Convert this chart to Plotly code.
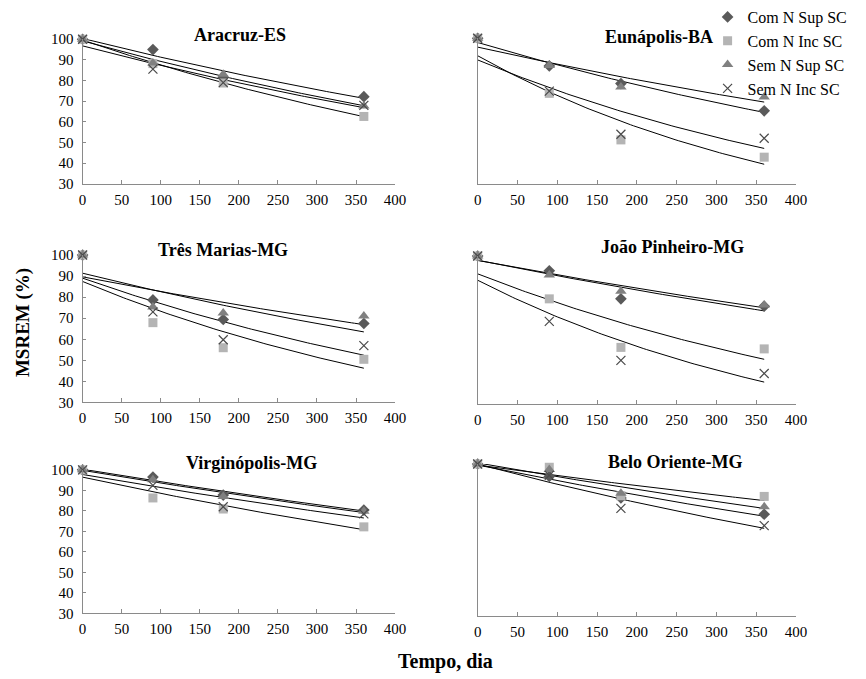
import numpy as np
import plotly.graph_objects as go

# ---------------- data ----------------
DAYS = [0, 90, 180, 360]
SERIES = ["Com N Sup SC", "Com N Inc SC", "Sem N Sup SC", "Sem N Inc SC"]
SITES = ["Aracruz-ES", "Eunápolis-BA", "Três Marias-MG",
         "João Pinheiro-MG", "Virginópolis-MG", "Belo Oriente-MG"]

ARACRUZ_COM_SUP = [100, 95.0, 81.5, 72.2]
ARACRUZ_COM_INC = [100, 88.2, 78.8, 62.6]
ARACRUZ_SEM_SUP = [100, 88.5, 83.0, 67.7]
ARACRUZ_SEM_INC = [100, 85.5, 79.0, 68.0]

EUNAPOLIS_COM_SUP = [100, 86.7, 78.2, 65.1]
EUNAPOLIS_COM_INC = [100, 73.5, 51.1, 42.8]
EUNAPOLIS_SEM_SUP = [100, 86.9, 76.5, 71.8]
EUNAPOLIS_SEM_INC = [100, 74.6, 53.8, 51.9]

TRES_MARIAS_COM_SUP = [100, 78.7, 69.4, 67.5]
TRES_MARIAS_COM_INC = [100, 67.9, 56.0, 50.5]
TRES_MARIAS_SEM_SUP = [100, 75.3, 72.5, 71.0]
TRES_MARIAS_SEM_INC = [100, 73.0, 59.8, 57.0]

JOAO_PINHEIRO_COM_SUP = [100, 93.0, 79.8, 76.3]
JOAO_PINHEIRO_COM_INC = [100, 79.8, 56.9, 56.2]
JOAO_PINHEIRO_SEM_SUP = [100, 91.1, 83.4, 76.9]
JOAO_PINHEIRO_SEM_INC = [100, 69.2, 50.8, 44.6]

VIRGINOPOLIS_COM_SUP = [100, 96.5, 87.7, 80.4]
VIRGINOPOLIS_COM_INC = [100, 86.3, 80.9, 72.2]
VIRGINOPOLIS_SEM_SUP = [100, 95.2, 87.0, 79.8]
VIRGINOPOLIS_SEM_INC = [100, 92.4, 82.0, 78.5]

BELO_ORIENTE_COM_SUP = [100, 94.3, 84.4, 76.9]
BELO_ORIENTE_COM_INC = [100, 98.5, 85.4, 85.1]
BELO_ORIENTE_SEM_SUP = [100, 97.5, 86.6, 80.3]
BELO_ORIENTE_SEM_INC = [100, 94.8, 79.6, 71.7]

SITE_DATA = [
    [ARACRUZ_COM_SUP, ARACRUZ_COM_INC, ARACRUZ_SEM_SUP, ARACRUZ_SEM_INC],
    [EUNAPOLIS_COM_SUP, EUNAPOLIS_COM_INC, EUNAPOLIS_SEM_SUP, EUNAPOLIS_SEM_INC],
    [TRES_MARIAS_COM_SUP, TRES_MARIAS_COM_INC, TRES_MARIAS_SEM_SUP, TRES_MARIAS_SEM_INC],
    [JOAO_PINHEIRO_COM_SUP, JOAO_PINHEIRO_COM_INC, JOAO_PINHEIRO_SEM_SUP, JOAO_PINHEIRO_SEM_INC],
    [VIRGINOPOLIS_COM_SUP, VIRGINOPOLIS_COM_INC, VIRGINOPOLIS_SEM_SUP, VIRGINOPOLIS_SEM_INC],
    [BELO_ORIENTE_COM_SUP, BELO_ORIENTE_COM_INC, BELO_ORIENTE_SEM_SUP, BELO_ORIENTE_SEM_INC],
]

# ---------------- styling ----------------
W, H = 866, 679
FONT = "Liberation Serif"
SYMBOLS = ["diamond", "square", "triangle-up", "x-thin-open"]
COLORS = ["#5a5a5a", "#b4b4b4", "#808080", "#4a4a4a"]
SIZES = [9, 9, 10, 9]
AXIS_COLOR = "#8a8a8a"

# panel pixel boxes: (x_left, x_right, y_top(100), y_bottom(30))
PANELS = [
    (80, 398, 32, 180), (482, 806, 31, 180),
    (80, 398, 253, 404), (482, 806, 254, 406),
    (80, 398, 473, 620), (482, 806, 467, 623),
]
TITLE_POS = [(240, 28), (667, 30), (223, 248), (680, 245), (252, 466), (683, 465)]


def px_x(p):
    return p / W


def px_y(p):
    return 1 - p / H


fig = go.Figure()
xfit = np.linspace(DAYS[0], DAYS[-1], 91)

for i, site_vals in enumerate(SITE_DATA):
    n = i + 1
    xa = "x" if n == 1 else f"x{n}"
    ya = "y" if n == 1 else f"y{n}"
    # exponential trend lines (least squares on log values)
    for vals in site_vals:
        b, lna = np.polyfit(DAYS, np.log(vals), 1)
        fig.add_trace(go.Scatter(
            x=xfit, y=np.exp(lna + b * xfit), mode="lines",
            line=dict(color="black", width=1), showlegend=False,
            hoverinfo="skip", xaxis=xa, yaxis=ya, cliponaxis=False))
    for s, vals in enumerate(site_vals):
        mk = dict(symbol=SYMBOLS[s], size=SIZES[s], color=COLORS[s])
        if SYMBOLS[s].startswith("x-thin"):
            mk["line"] = dict(color=COLORS[s], width=1.2)
        else:
            mk["line"] = dict(width=0)
        fig.add_trace(go.Scatter(
            x=DAYS, y=vals, mode="markers", name=SERIES[s], marker=mk,
            legendgroup=SERIES[s], showlegend=(i == 1),
            xaxis=xa, yaxis=ya, cliponaxis=False))

layout = dict(
    width=W, height=H, autosize=False,
    margin=dict(l=0, r=0, t=0, b=0),
    paper_bgcolor="white", plot_bgcolor="white",
    font=dict(family=FONT, size=14, color="black"),
    legend=dict(x=px_x(716), y=1.012, xanchor="left", yanchor="top",
                bgcolor="rgba(0,0,0,0)", font=dict(size=16, family=FONT),
                itemwidth=30, tracegroupgap=0),
    annotations=[],
)

for i, (xl, xr, yt, yb) in enumerate(PANELS):
    n = i + 1
    left = (i % 2 == 0)
    xkey = "xaxis" if n == 1 else f"xaxis{n}"
    ykey = "yaxis" if n == 1 else f"yaxis{n}"
    layout[xkey] = dict(
        domain=[px_x(xl), px_x(xr)], range=[0, 400], dtick=50, tick0=0,
        anchor="y" if n == 1 else f"y{n}",
        showline=True, linecolor=AXIS_COLOR, linewidth=1,
        ticks="inside", ticklen=4, tickcolor=AXIS_COLOR,
        ticklabelstandoff=2,
        showgrid=False, zeroline=False,
        tickfont=dict(family=FONT, size=15, color="black"))
    layout[ykey] = dict(
        domain=[px_y(yb), px_y(yt)], range=[30, 100], dtick=10, tick0=30,
        anchor="x" if n == 1 else f"x{n}",
        showline=True, linecolor=AXIS_COLOR, linewidth=1,
        ticks="inside" if left else "", ticklen=3, tickcolor=AXIS_COLOR,
        ticklabelstandoff=5,
        showticklabels=left, showgrid=False, zeroline=False,
        tickfont=dict(family=FONT, size=15, color="black"))
    tx, ty = TITLE_POS[i]
    layout["annotations"].append(dict(
        text=f"<b>{SITES[i]}</b>", x=px_x(tx), y=px_y(ty), xref="paper", yref="paper",
        showarrow=False, xanchor="center", yanchor="middle",
        font=dict(family=FONT, size=18, color="black")))

layout["annotations"].append(dict(
    text="<b>MSREM (%)</b>", x=px_x(20), y=px_y(322), xref="paper", yref="paper",
    showarrow=False, textangle=-90, xanchor="center", yanchor="middle",
    font=dict(family=FONT, size=19, color="black")))
layout["annotations"].append(dict(
    text="<b>Tempo, dia</b>", x=px_x(449), y=px_y(669), xref="paper", yref="paper",
    showarrow=False, xanchor="center", yanchor="middle",
    font=dict(family=FONT, size=20, color="black")))

fig.update_layout(**layout)

PAGE_FIX = (
    "var d=document.documentElement, b=document.body;"
    "d.style.margin='0'; d.style.padding='0'; d.style.overflow='hidden';"
    "b.style.margin='0'; b.style.padding='0'; b.style.overflow='hidden';"
    "b.style.width='866px'; b.style.height='679px';"
    "var g=document.querySelector('.plotly-graph-div');"
    "if(g&&g.parentElement){g.parentElement.style.height='679px';"
    "g.parentElement.style.overflow='hidden'; g.style.display='block';}"
)
fig.write_html("out.html", config={"displayModeBar": False}, post_script=PAGE_FIX)
